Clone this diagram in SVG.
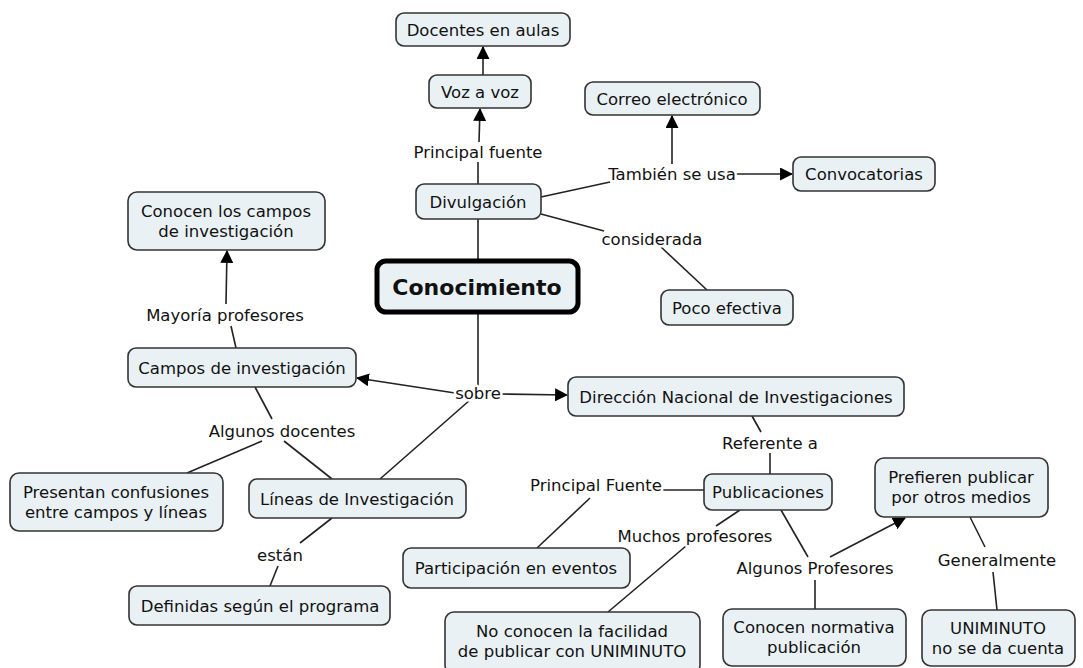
<svg xmlns="http://www.w3.org/2000/svg" width="1083" height="668" viewBox="0 0 1083 668">
<defs>
<style>
.n rect{fill:#e9f1f5;stroke:#333;stroke-width:1.6}
.n text,.l text{font-family:"DejaVu Sans",Verdana,sans-serif;font-size:16.5px;fill:#111;text-anchor:middle}
.l text{stroke:#fff;stroke-width:5px;stroke-linejoin:round;paint-order:stroke}
.c line{stroke:#222;stroke-width:1.6;fill:none}
.a{marker-end:url(#ah)}
</style>
<marker id="ah" viewBox="0 0 12 12" refX="11" refY="6" markerWidth="13" markerHeight="13" markerUnits="userSpaceOnUse" orient="auto">
<path d="M0,0 L12,6 L0,12 z" fill="#000"/>
</marker>
</defs>
<rect width="1083" height="668" fill="#fff"/>
<g class="c" id="connectors">
<line class="a" x1="483" y1="75" x2="483" y2="47"/>
<line class="a" x1="479" y1="142" x2="480" y2="109"/>
<line x1="478" y1="162" x2="478" y2="184"/>
<line x1="478" y1="219" x2="478" y2="260"/>
<line x1="541" y1="197" x2="610" y2="182"/>
<line class="a" x1="672" y1="164" x2="672" y2="116"/>
<line class="a" x1="730" y1="174" x2="792" y2="174"/>
<line x1="541" y1="214" x2="604" y2="231"/>
<line x1="661" y1="247" x2="707" y2="290"/>
<line x1="478" y1="314" x2="478" y2="386"/>
<line class="a" x1="455" y1="393" x2="357" y2="378"/>
<line class="a" x1="500" y1="394" x2="567" y2="395"/>
<line x1="470" y1="400" x2="380" y2="479"/>
<line x1="236" y1="348" x2="231" y2="326"/>
<line class="a" x1="226" y1="304" x2="227" y2="251"/>
<line x1="255" y1="387" x2="272" y2="419"/>
<line x1="262" y1="441" x2="187" y2="473"/>
<line x1="284" y1="441" x2="332" y2="479"/>
<line x1="332" y1="518" x2="300" y2="543"/>
<line x1="278" y1="566" x2="270" y2="586"/>
<line x1="752" y1="416" x2="761" y2="432"/>
<line x1="770" y1="453" x2="770" y2="474"/>
<line x1="660" y1="490" x2="704" y2="490"/>
<line x1="590" y1="498" x2="537" y2="548"/>
<line x1="740" y1="510" x2="716" y2="526"/>
<line x1="686" y1="546" x2="608" y2="612"/>
<line x1="781" y1="510" x2="808" y2="557"/>
<line x1="815" y1="580" x2="815" y2="609"/>
<line class="a" x1="830" y1="557" x2="905" y2="518"/>
<line x1="970" y1="517" x2="985" y2="547"/>
<line x1="993" y1="572" x2="997" y2="610"/>
</g>
<g class="l" id="labels">
<text x="478" y="158">Principal fuente</text>
<text x="672" y="180">También se usa</text>
<text x="652" y="245">considerada</text>
<text x="478" y="399">sobre</text>
<text x="225" y="321">Mayoría profesores</text>
<text x="282" y="437">Algunos docentes</text>
<text x="280" y="561">están</text>
<text x="770" y="449">Referente a</text>
<text x="596" y="491">Principal Fuente</text>
<text x="695" y="542">Muchos profesores</text>
<text x="815" y="574">Algunos Profesores</text>
<text x="997" y="566">Generalmente</text>
</g>
<g class="n" id="n-docentes"><rect x="396" y="13" width="174" height="33" rx="8"/><text x="483" y="35.5">Docentes en aulas</text></g>
<g class="n" id="n-voz"><rect x="429" y="75" width="102" height="33" rx="8"/><text x="480" y="97.5">Voz a voz</text></g>
<g class="n" id="n-correo"><rect x="585" y="82" width="175" height="33" rx="8"/><text x="672" y="104.5">Correo electrónico</text></g>
<g class="n" id="n-convoc"><rect x="793" y="157" width="142" height="34" rx="8"/><text x="864" y="180">Convocatorias</text></g>
<g class="n" id="n-divulg"><rect x="416" y="184" width="125" height="35" rx="8"/><text x="478" y="207.5">Divulgación</text></g>
<g class="n" id="n-conocen"><rect x="128" y="192" width="197" height="58" rx="9"/><text x="226" y="217">Conocen los campos</text><text x="226" y="237">de investigación</text></g>
<g class="n" id="n-conocimiento"><rect x="377" y="261" width="201" height="51" rx="9" style="stroke:#000;stroke-width:5"/><text x="477" y="295" style="font-size:22px;font-weight:bold">Conocimiento</text></g>
<g class="n" id="n-poco"><rect x="661" y="290" width="132" height="35" rx="8"/><text x="727" y="313.5">Poco efectiva</text></g>
<g class="n" id="n-campos"><rect x="128" y="348" width="228" height="39" rx="8"/><text x="242" y="373.5">Campos de investigación</text></g>
<g class="n" id="n-direccion"><rect x="568" y="377" width="336" height="39" rx="8"/><text x="736" y="402.5">Dirección Nacional de Investigaciones</text></g>
<g class="n" id="n-presentan"><rect x="10" y="473" width="213" height="58" rx="9"/><text x="116" y="498">Presentan confusiones</text><text x="116" y="518">entre campos y líneas</text></g>
<g class="n" id="n-lineas"><rect x="249" y="479" width="217" height="39" rx="8"/><text x="357" y="504.5">Líneas de Investigación</text></g>
<g class="n" id="n-publicaciones"><rect x="704" y="474" width="128" height="36" rx="8"/><text x="768" y="498">Publicaciones</text></g>
<g class="n" id="n-prefieren"><rect x="875" y="458" width="173" height="59" rx="9"/><text x="961" y="483">Prefieren publicar</text><text x="961" y="503">por otros medios</text></g>
<g class="n" id="n-participacion"><rect x="403" y="548" width="227" height="40" rx="8"/><text x="516" y="574">Participación en eventos</text></g>
<g class="n" id="n-definidas"><rect x="129" y="586" width="261" height="39" rx="8"/><text x="260" y="611.5">Definidas según el programa</text></g>
<g class="n" id="n-noconocen"><rect x="445" y="612" width="255" height="62" rx="9"/><text x="572" y="637">No conocen la facilidad</text><text x="572" y="657">de publicar con UNIMINUTO</text></g>
<g class="n" id="n-normativa"><rect x="723" y="609" width="183" height="57" rx="9"/><text x="814" y="633">Conocen normativa</text><text x="814" y="653">publicación</text></g>
<g class="n" id="n-uniminuto"><rect x="922" y="610" width="153" height="56" rx="9"/><text x="998" y="634">UNIMINUTO</text><text x="998" y="654">no se da cuenta</text></g>
</svg>
